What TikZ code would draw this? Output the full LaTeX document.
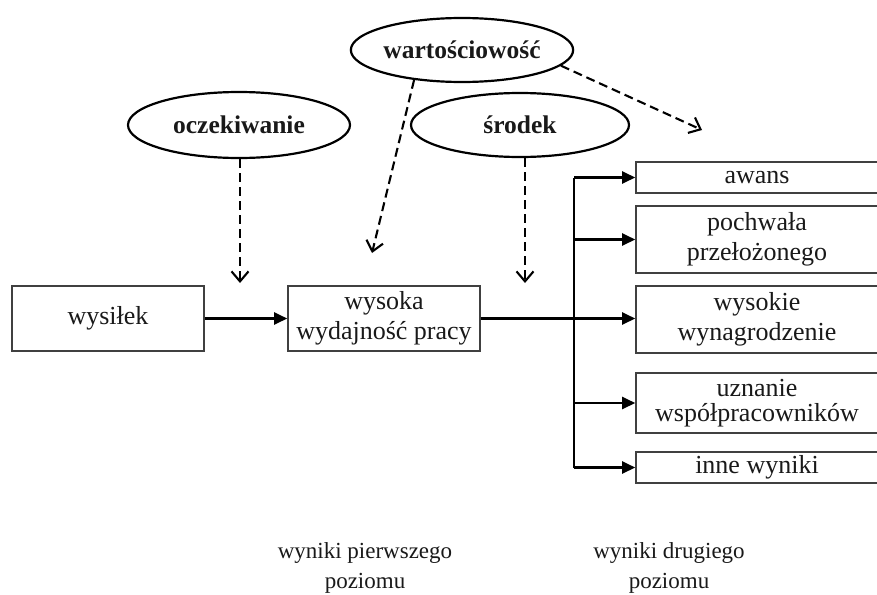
\documentclass[tikz,border=0pt]{standalone}
\usepackage{fontspec}
\setmainfont{Liberation Serif}
\usetikzlibrary{arrows.meta,shapes.geometric}
\begin{document}
\begin{tikzpicture}[x=1pt,y=-1pt,
  oval/.style={ellipse,draw=black,line width=2.2pt,inner sep=0pt,text=black!90,font=\fontsize{25.5}{30}\selectfont\bfseries},
  box/.style={rectangle,draw=black!75,line width=1.6pt,inner sep=0pt,align=center,text=black!90,font=\fontsize{26}{30}\selectfont},
  rbox/.style={box,minimum width=242pt},
  flow/.style={line width=2.4pt,-{Triangle[length=13pt,width=12pt]}},
  bus/.style={line width=1.8pt},
  infl/.style={line width=2.1pt,dash pattern=on 9pt off 5pt,-{Straight Barb[length=10pt,width=17pt]}},
  lbl/.style={align=center,inner sep=0pt,text=black!90,font=\fontsize{23}{30}\selectfont}
]
\useasboundingbox (0,0) rectangle (877,594);

% ellipses
\node[oval,minimum width=220pt,minimum height=64pt] (wart) at (462,50) {wartościowość};
\node[oval,minimum width=222pt,minimum height=66pt] (oczek) at (239,125) {oczekiwanie};
\node[oval,minimum width=218pt,minimum height=64pt] (srodek) at (520,125) {środek};

% boxes
\node[box,minimum width=192pt,minimum height=65pt] (wys) at (108,318.5) {wysiłek};
\node[box,minimum width=192pt,minimum height=65pt] (wyd) at (384,318.5) {wysoka\\wydajność pracy};
\node[rbox,minimum height=31pt] (awans) at (757,177.5) {awans};
\node[rbox,minimum height=67pt] (pochw) at (757,239.5) {pochwała\\przełożonego};
\node[rbox,minimum height=67pt] (wynagr) at (757,319.5) {wysokie\\wynagrodzenie};
\node[rbox,minimum height=60pt,font=\fontsize{26}{24.5}\selectfont] (uzn) at (757,403) {uznanie\\współpracowników};
\node[rbox,minimum height=31pt] (inne) at (757,467.5) {inne wyniki};

% bottom labels
\node[lbl] (lab1) at (365,568) {wyniki pierwszego\\poziomu};
\node[lbl] (lab2) at (669,568) {wyniki drugiego\\poziomu};

% solid connectors
\coordinate (busx) at (574,0);
\draw[flow] (wys.east) -- (wyd.west);
\draw[flow] (wyd.east) -- (wyd.east -| wynagr.west);
\draw[bus] (awans.west -| busx) -- (inne.west -| busx);
\draw[flow] (awans.west -| busx) -- (awans.west);
\draw[flow] (pochw.west -| busx) -- (pochw.west);
\draw[flow] (uzn.west -| busx) -- (uzn.west);
\draw[flow] (inne.west -| busx) -- (inne.west);

% dashed influences
\coordinate (tO) at (240,283);
\coordinate (tW) at (372,253);
\coordinate (tS) at (525,283);
\coordinate (tD) at (702,130);
\draw[infl] (oczek.south -| tO) -- (tO);
\draw[infl] (wart.212) -- (tW);
\draw[infl] (srodek.south -| tS) -- (tS);
\draw[infl] (wart.-9) -- (tD);
\end{tikzpicture}
\end{document}
